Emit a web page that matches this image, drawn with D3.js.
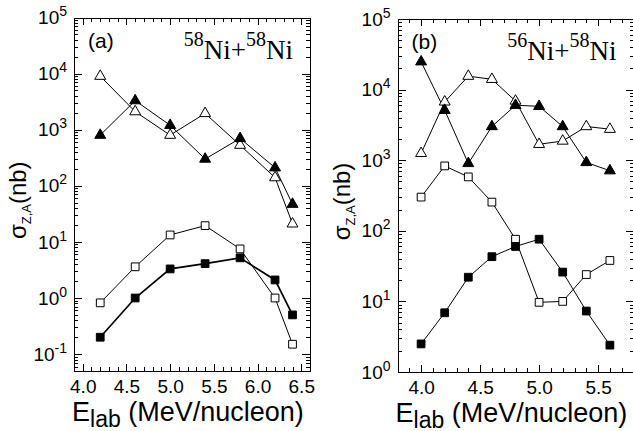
<!DOCTYPE html>
<html>
  <head>
    <meta charset="utf-8">
    <title>Ni + Ni cross sections</title>
    <style>
      body { margin: 0; background: white; }
      svg { display: block; }
      .axis path, .axis line { fill: none; stroke: #000; stroke-width: 1; shape-rendering: crispEdges; }
      .axis text { font-family: "Liberation Sans", Arial, sans-serif; font-size: 19px; fill: #000; }
      .label { font-family: "Liberation Sans", Arial, sans-serif; fill: #000; }
      .serif { font-family: "Liberation Serif", "Times New Roman", serif; fill: #000; }
    </style>
  </head>
  <body>
  <svg id="chart" width="633" height="431"></svg>
  <script src="https://d3js.org/d3.v7.min.js"></script>
  <script>

    // panel (a): 58Ni + 58Ni
    var energyA = [4.2, 4.6, 5.0, 5.4, 5.8, 6.2, 6.4];
    var aFilledTri = [800, 3300, 1200, 300, 700, 210, 47];
    var aOpenTri   = [9000, 2100, 800, 1950, 530, 140, 21];
    var aOpenSq    = [0.82, 3.6, 13.3, 19.5, 7.5, 1.0, 0.15];
    var aFilledSq  = [0.20, 1.0, 3.3, 4.1, 5.2, 2.1, 0.50];

    // panel (b): 56Ni + 58Ni
    var energyB = [4.0, 4.2, 4.4, 4.6, 4.8, 5.0, 5.2, 5.4, 5.6];
    var bFilledTri = [24800, 5100, 900, 3000, 6000, 5800, 3000, 930, 710];
    var bOpenTri   = [1250, 6700, 15500, 14000, 6900, 1680, 1870, 3000, 2750];
    var bOpenSq    = [300, 830, 580, 255, 76, 9.7, 10, 24, 38];
    var bFilledSq  = [2.5, 6.9, 22, 43, 60, 76, 26, 7.3, 2.4];

    var xTicksA = [4.0, 4.5, 5.0, 5.5, 6.0, 6.5];
    var xTicksB = [4.0, 4.5, 5.0, 5.5];

    var svg = d3.select("#chart");

    function drawPanel(p) {
      var w = 236, h = p.h;
      var g = svg.append("g").attr("transform", "translate(" + p.left + "," + p.top + ")");

      var x = d3.scaleLinear().domain(p.xDomain).range([0, w]);
      var y = d3.scaleLog().domain(p.yDomain).range([h, 0]);

      // minor x ticks every 0.1
      var xMinor = d3.range(Math.round(p.xDomain[0] * 10), Math.round(p.xDomain[1] * 10) + 1)
        .map(function(v) { return v / 10; })
        .filter(function(v) { return p.xTicks.indexOf(v) < 0; });

      // log minor ticks 2..9 per decade
      var yMajor = [], yMinor = [];
      for (var e = -2; e <= 5; e++) {
        for (var m = 1; m <= 9; m++) {
          var v = m * Math.pow(10, e);
          if (v < p.yDomain[0] * 0.999 || v > p.yDomain[1] * 1.001) continue;
          if (m === 1) yMajor.push(v); else yMinor.push(v);
        }
      }

      // bottom
      g.append("g").attr("class", "axis").attr("transform", "translate(0," + h + ")")
        .call(d3.axisBottom(x).tickValues(xMinor).tickSize(-4).tickSizeOuter(0).tickFormat(""));
      g.append("g").attr("class", "axis").attr("transform", "translate(0," + h + ")")
        .call(d3.axisBottom(x).tickValues(p.xTicks).tickSize(-7).tickSizeOuter(0).tickPadding(9)
          .tickFormat(d3.format(".1f")));
      // top
      g.append("g").attr("class", "axis")
        .call(d3.axisTop(x).tickValues(xMinor).tickSize(-4).tickSizeOuter(0).tickFormat(""));
      g.append("g").attr("class", "axis")
        .call(d3.axisTop(x).tickValues(p.xTicks).tickSize(-7).tickSizeOuter(0).tickFormat(""));
      // left
      g.append("g").attr("class", "axis")
        .call(d3.axisLeft(y).tickValues(yMinor).tickSize(-4).tickSizeOuter(0).tickFormat(""));
      var yl = g.append("g").attr("class", "axis")
        .call(d3.axisLeft(y).tickValues(yMajor).tickSize(-8).tickSizeOuter(0).tickPadding(7));
      yl.selectAll(".tick text").each(function(d) {
        var t = d3.select(this).text(null);
        t.append("tspan").text("10");
        t.append("tspan").attr("dy", "-8").style("font-size", "14px").text(Math.round(Math.log10(d)));
      });
      // right
      g.append("g").attr("class", "axis").attr("transform", "translate(" + w + ",0)")
        .call(d3.axisRight(y).tickValues(yMinor).tickSize(-4).tickSizeOuter(0).tickFormat(""));
      g.append("g").attr("class", "axis").attr("transform", "translate(" + w + ",0)")
        .call(d3.axisRight(y).tickValues(yMajor).tickSize(-8).tickSizeOuter(0).tickFormat(""));

      // series
      p.series.forEach(function(s) {
        var pts = p.energy.map(function(e, i) { return [e, s.values[i]]; });
        g.append("path")
          .datum(pts)
          .attr("fill", "none")
          .attr("stroke", "#000")
          .attr("stroke-width", s.lw)
          .attr("d", d3.line().x(function(d) { return x(d[0]); }).y(function(d) { return y(d[1]); }));
      });
      p.series.forEach(function(s) {
        var pts = p.energy.map(function(e, i) { return [e, s.values[i]]; });
        var sym = d3.symbol().type(s.shape === "tri" ? d3.symbolTriangle : d3.symbolSquare)
          .size(s.shape === "tri" ? 52 : 60);
        g.selectAll(null)
          .data(pts)
          .enter().append("path")
          .attr("transform", function(d) { return "translate(" + x(d[0]) + "," + y(d[1]) + ")"; })
          .attr("d", sym)
          .attr("fill", s.filled ? "#000" : "#fff")
          .attr("stroke", "#000")
          .attr("stroke-width", 1);
      });

      // panel letter
      g.append("text").attr("class", "label").attr("x", 14).attr("y", 30)
        .style("font-size", "21px").text(p.letter);

      // reaction label
      var r = g.append("text").attr("class", "serif").attr("x", w - 17).attr("y", 41)
        .attr("text-anchor", "end").style("font-size", "27px");
      r.append("tspan").attr("dy", "-13").style("font-size", "20px").text(p.proj);
      r.append("tspan").attr("dy", "13").text("Ni+");
      r.append("tspan").attr("dy", "-13").style("font-size", "20px").text("58");
      r.append("tspan").attr("dy", "13").text("Ni");

      // x title
      var xt = g.append("text").attr("class", "label").attr("x", -2).attr("y", h + 50)
        .style("font-size", "27px");
      xt.append("tspan").text("E");
      xt.append("tspan").attr("dy", "6").style("font-size", "23px").text("lab");
      xt.append("tspan").attr("dy", "-6").text(" (MeV/nucleon)");

      // y title
      var yt = g.append("text").attr("class", "label")
        .attr("transform", "translate(-48," + (h / 2 + 6) + ") rotate(-90)")
        .attr("text-anchor", "middle").style("font-size", "24px");
      yt.append("tspan").text("σ");
      yt.append("tspan").attr("dy", "5").style("font-size", "13px").text("Z,A");
      yt.append("tspan").attr("dy", "-5").text("(nb)");
    }

    drawPanel({
      left: 74, top: 17.5, h: 353.5,
      xDomain: [3.9, 6.6], yDomain: [0.05, 1e5], xTicks: xTicksA,
      energy: energyA, letter: "(a)", proj: "58",
      series: [
        { values: aOpenTri, shape: "tri", filled: false, lw: 1 },
        { values: aFilledTri, shape: "tri", filled: true, lw: 1 },
        { values: aOpenSq, shape: "sq", filled: false, lw: 1 },
        { values: aFilledSq, shape: "sq", filled: true, lw: 1.7 }
      ]
    });

    drawPanel({
      left: 397.5, top: 19, h: 353,
      xDomain: [3.8, 5.8], yDomain: [1, 1e5], xTicks: xTicksB,
      energy: energyB, letter: "(b)", proj: "56",
      series: [
        { values: bOpenTri, shape: "tri", filled: false, lw: 1 },
        { values: bFilledTri, shape: "tri", filled: true, lw: 1 },
        { values: bOpenSq, shape: "sq", filled: false, lw: 1 },
        { values: bFilledSq, shape: "sq", filled: true, lw: 1 }
      ]
    });

  </script>
  </body>
</html>
